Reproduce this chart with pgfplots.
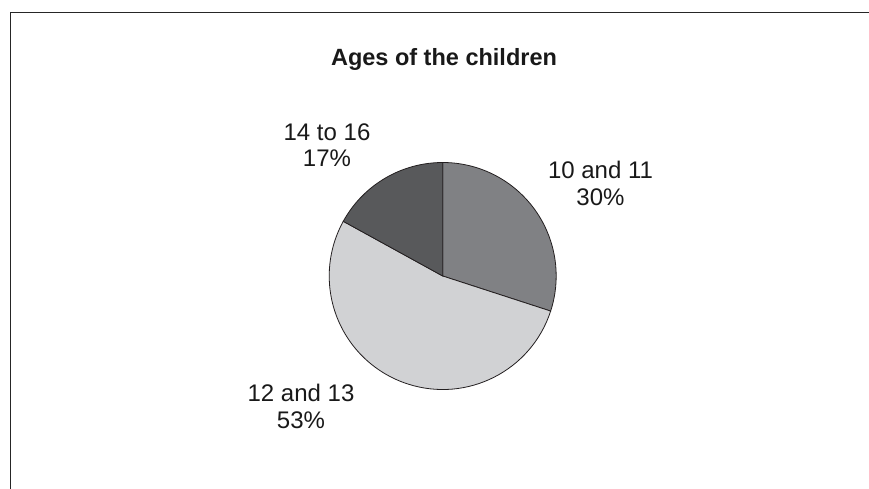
\documentclass[border=0pt]{standalone}
\usepackage{pgfplots}
\usepackage{pgfplotstable}
\pgfplotsset{compat=1.18}
\usepackage{fontspec}
\setmainfont{Liberation Sans}
\definecolor{sliceA}{HTML}{808184}
\definecolor{sliceB}{HTML}{D1D2D4}
\definecolor{sliceC}{HTML}{58595B}
\definecolor{edge}{HTML}{231F20}
\pgfplotstableread{
share
30
53
17
}\agedata
\begin{document}
\begin{tikzpicture}[x=1pt,y=1pt]
\pgfplotstablegetelem{0}{share}\of\agedata \let\va\pgfplotsretval
\pgfplotstablegetelem{1}{share}\of\agedata \let\vb\pgfplotsretval
\pgfplotstablegetelem{2}{share}\of\agedata \let\vc\pgfplotsretval
\pgfmathsetmacro\aA{90-3.6*\va}
\pgfmathsetmacro\aB{\aA-3.6*\vb}
\pgfmathsetmacro\aC{\aB-3.6*\vc}
\useasboundingbox (0,0) rectangle (869,489);
\draw[line width=1.5pt, color=black!85] (10.7,0) -- (10.7,476.5) -- (869,476.5);
\begin{axis}[
  at={(442.7pt,213pt)}, anchor=center,
  width=227pt, height=227pt, scale only axis,
  xmin=-1, xmax=1, ymin=-1, ymax=1,
  hide axis, clip=false]
\filldraw[fill=sliceA, draw=edge, line width=0.8pt] (axis cs:0,0) -- ++(90:113.5pt) arc[start angle=90, end angle=\aA, radius=113.5pt] -- cycle;
\filldraw[fill=sliceB, draw=edge, line width=0.8pt] (axis cs:0,0) -- ++(\aA:113.5pt) arc[start angle=\aA, end angle=\aB, radius=113.5pt] -- cycle;
\filldraw[fill=sliceC, draw=edge, line width=0.8pt] (axis cs:0,0) -- ++(\aB:113.5pt) arc[start angle=\aB, end angle=\aC, radius=113.5pt] -- cycle;
\end{axis}
\begin{scope}[every node/.style={anchor=base, inner sep=0pt, font=\fontsize{24}{28}\selectfont, text=black!90}]
\node[font=\fontsize{23.5}{28}\selectfont\bfseries] at (444,423) {Ages of the children};
\node at (600.5,310.7) {10 and 11};
\node at (600.5,283) {30\%};
\node at (327,348.3) {14 to 16};
\node at (327,322.3) {17\%};
\node at (301,87.3) {12 and 13};
\node at (301,60.7) {53\%};
\end{scope}
\end{tikzpicture}
\end{document}
